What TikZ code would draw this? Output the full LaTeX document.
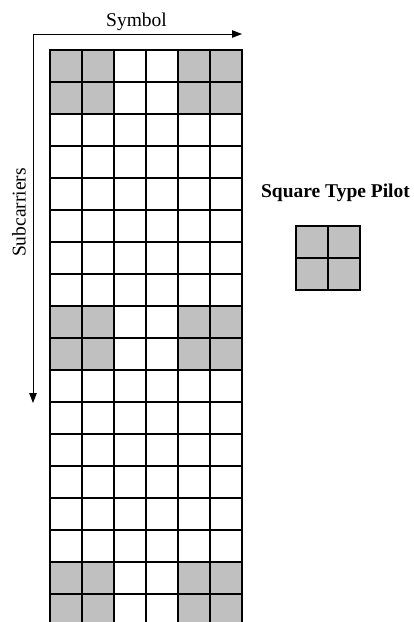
\documentclass[tikz,border=0pt]{standalone}
\usepackage{fontspec}
\setmainfont{Liberation Serif}
\usepackage{tikz}
\usetikzlibrary{arrows.meta,positioning}
\definecolor{pilotgray}{RGB}{192,192,192}

\begin{document}
\begin{tikzpicture}[
  x=1pt, y=-1pt,
  every node/.style={font=\fontsize{19.5}{23}\selectfont},
  cell/.style={rectangle, draw=black, line width=2.4pt, fill=white,
      minimum size=32pt, inner sep=0pt, outer sep=0pt},
  pilot/.style={cell, fill=pilotgray},
  axis/.style={-{Triangle[length=10pt,width=7.5pt]}, line width=1pt}
]
\useasboundingbox (0,0) rectangle (414,622);
\clip (0,0) rectangle (414,622);

% time-frequency grid
\foreach \r in {1,...,18}
  \foreach \c in {1,...,6} {
    \pgfmathtruncatemacro{\isp}{(mod(\r-1,8)<2)*((\c<3)||(\c>4))}
    \ifnum\isp=1 \def\cellfill{pilotgray}\else\def\cellfill{white}\fi
    \node[cell, fill=\cellfill] (c\r-\c) at (34+32*\c, 33.7+32*\r) {};
  }

% axes
\coordinate (corner) at (33,34);
\coordinate (symend) at (242,34);
\coordinate (subend) at (33,403);
\draw[axis] (corner) -- (symend);
\draw[axis] (corner) -- (subend);
\node[anchor=base] (symlbl) at (136.5,26) {Symbol};
\node[rotate=90, anchor=base] (sublbl) at (25.5,212.5) {Subcarriers};

% pilot legend
\node[anchor=base, font=\fontsize{19.5}{23}\selectfont\bfseries] (pilotlbl) at (335.5,197) {Square Type Pilot};
\node[pilot] (p11) at (312,242) {};
\node[pilot, right=0pt of p11] (p12) {};
\node[pilot, below=0pt of p11] (p21) {};
\node[pilot, right=0pt of p21] (p22) {};
\end{tikzpicture}
\end{document}
